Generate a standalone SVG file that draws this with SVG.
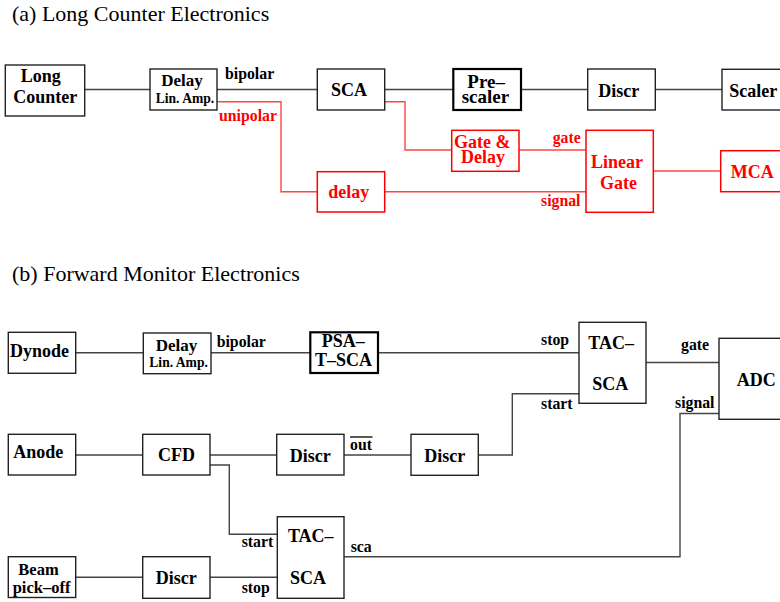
<svg xmlns="http://www.w3.org/2000/svg" width="780" height="602" viewBox="0 0 780 602">
<style>
.title{font-family:"Liberation Serif","Times New Roman",serif;font-size:22px;fill:#000}
.t{font-family:"Liberation Serif","Times New Roman",serif;font-weight:bold;font-size:18px;fill:#000}
.s{font-family:"Liberation Serif","Times New Roman",serif;font-weight:bold;font-size:13.6px;fill:#000}
.l{font-family:"Liberation Serif","Times New Roman",serif;font-weight:bold;font-size:15.8px;fill:#000}
.red{fill:#f00}
.box{fill:#fff;stroke:#222;stroke-width:1.4}
.thick{fill:#fff;stroke:#000;stroke-width:2.2}
.rbox{fill:#fff;stroke:#f00;stroke-width:1.5}
.w{fill:none;stroke:#444;stroke-width:1.4}
.rw{fill:none;stroke:#f44;stroke-width:1.4}
</style>
<rect width="780" height="602" fill="#fff"/>
<text class="title" x="12" y="21">(a) Long Counter Electronics</text>
<text class="title" x="12" y="281">(b) Forward Monitor Electronics</text>

<g id="connectors">
<!-- top black -->
<path class="w" d="M84.7 89.5H150M217 89.5H317M385 89.5H453.3M521 89.5H587.7M655.3 89.5H722"/>
<!-- top red -->
<path class="rw" d="M217 101.7H281V191.7H317"/>
<path class="rw" d="M385 101.7H405V150H451.7"/>
<path class="rw" d="M519 150H586"/>
<path class="rw" d="M385 191.7H586"/>
<path class="rw" d="M653.3 171H720.7"/>
<!-- bottom -->
<path class="w" d="M75.7 352.7H143.3M211 352.7H310.3M378 352.7H579"/>
<path class="w" d="M646 362.5H719"/>
<path class="w" d="M75.7 455H142.7M210 455H276.7M344 455H411"/>
<path class="w" d="M478.3 455H512.3V393.7H579"/>
<path class="w" d="M210 465H229.3V534.3H277.3"/>
<path class="w" d="M75.7 577.3H142.7M210 577.3H277.3"/>
<path class="w" d="M344 556.7H680V413.5H719"/>
</g>

<g id="long-counter">
<rect class="box" x="5.3" y="65" width="79.4" height="51"/>
<text class="t" x="20.7" y="81.7">Long</text>
<text class="t" x="13.3" y="103.3">Counter</text>
</g>
<g id="delay-amp-a">
<rect class="box" x="150" y="69" width="67" height="41"/>
<text class="t" x="161.3" y="86" style="font-size:17px">Delay</text>
<text class="s" x="155.7" y="103.3">Lin. Amp.</text>
</g>
<g id="sca-a">
<rect class="box" x="317.3" y="69" width="67.4" height="41"/>
<text class="t" x="331" y="95.7">SCA</text>
</g>
<g id="prescaler">
<rect class="thick" x="453.3" y="69" width="67.7" height="41"/>
<text class="t" x="467.3" y="88" style="font-size:19px">Pre–</text>
<text class="t" x="461.7" y="102.7" style="font-size:19px">scaler</text>
</g>
<g id="discr-a">
<rect class="box" x="587.7" y="69" width="67.6" height="41"/>
<text class="t" x="598.3" y="97">Discr</text>
</g>
<g id="scaler">
<rect class="box" x="722" y="69.3" width="80" height="40.7"/>
<text class="t" x="729.3" y="97.3">Scaler</text>
</g>
<g id="gate-delay">
<rect class="rbox" x="451.7" y="130.3" width="67.3" height="41"/>
<text class="t red" x="454" y="147.7">Gate &amp;</text>
<text class="t red" x="461" y="162.7">Delay</text>
</g>
<g id="linear-gate">
<rect class="rbox" x="586" y="130.3" width="67.3" height="82"/>
<text class="t red" x="591" y="168.3">Linear</text>
<text class="t red" x="600" y="189.3">Gate</text>
</g>
<g id="delay-red">
<rect class="rbox" x="317.3" y="171.7" width="67.4" height="40.3"/>
<text class="t red" x="328.3" y="198.3">delay</text>
</g>
<g id="mca">
<rect class="rbox" x="720.7" y="150.7" width="80" height="41"/>
<text class="t red" x="730.7" y="178.3">MCA</text>
</g>
<g id="labels-a">
<text class="l" x="225" y="79.3">bipolar</text>
<text class="l red" x="219" y="120.5">unipolar</text>
<text class="l red" x="552.7" y="143.3">gate</text>
<text class="l red" x="541" y="206">signal</text>
</g>

<g id="dynode">
<rect class="box" x="8.3" y="332.3" width="67.4" height="41"/>
<text class="t" x="10" y="357.3">Dynode</text>
</g>
<g id="delay-amp-b">
<rect class="box" x="143.3" y="333" width="67.7" height="40.7"/>
<text class="t" x="155.7" y="350.7" style="font-size:17px">Delay</text>
<text class="s" x="149.3" y="367.3">Lin. Amp.</text>
</g>
<g id="psa-tsca">
<rect class="thick" x="310.3" y="332.3" width="67.7" height="40.7"/>
<text class="t" x="321.7" y="346.7">PSA–</text>
<text class="t" x="315" y="365.7">T–SCA</text>
</g>
<g id="tac-sca-1">
<rect class="box" x="579" y="322.3" width="67" height="81"/>
<text class="t" x="588.3" y="349">TAC–</text>
<text class="t" x="592.3" y="390">SCA</text>
</g>
<g id="adc">
<rect class="box" x="719" y="338.3" width="80" height="81"/>
<text class="t" x="736.7" y="386">ADC</text>
</g>
<g id="anode">
<rect class="box" x="8.3" y="434.3" width="67.4" height="40.7"/>
<text class="t" x="13.3" y="458.3">Anode</text>
</g>
<g id="cfd">
<rect class="box" x="142.7" y="434.3" width="67.3" height="40.7"/>
<text class="t" x="176.4" y="461" text-anchor="middle">CFD</text>
</g>
<g id="discr-b1">
<rect class="box" x="276.7" y="434.3" width="67.3" height="40.7"/>
<text class="t" x="310.3" y="461.7" text-anchor="middle">Discr</text>
</g>
<g id="discr-b2">
<rect class="box" x="411" y="434.3" width="67.3" height="41"/>
<text class="t" x="444.7" y="462" text-anchor="middle">Discr</text>
</g>
<g id="tac-sca-2">
<rect class="box" x="277.3" y="516.7" width="66.7" height="81.6"/>
<text class="t" x="310.8" y="542.3" text-anchor="middle">TAC–</text>
<text class="t" x="308" y="584" text-anchor="middle">SCA</text>
</g>
<g id="beam-pickoff">
<rect class="box" x="8.3" y="556.7" width="67.4" height="40.8"/>
<text class="t" x="18.3" y="575" style="font-size:16.5px">Beam</text>
<text class="t" x="12.7" y="592.7" style="font-size:16.5px">pick–off</text>
</g>
<g id="discr-b3">
<rect class="box" x="142.7" y="556.7" width="67.3" height="41.6"/>
<text class="t" x="176.3" y="584" text-anchor="middle">Discr</text>
</g>
<g id="labels-b">
<text class="l" x="216.7" y="347.3">bipolar</text>
<text class="l" x="541" y="345">stop</text>
<text class="l" x="541" y="409">start</text>
<text class="l" x="681" y="350">gate</text>
<text class="l" x="675" y="407.5">signal</text>
<text class="l" x="350" y="450">out</text>
<line x1="350" y1="437" x2="372.5" y2="437" stroke="#000" stroke-width="1.3"/>
<text class="l" x="241.7" y="546.7">start</text>
<text class="l" x="350.7" y="551.7">sca</text>
<text class="l" x="241.7" y="592.7">stop</text>
</g>
</svg>
